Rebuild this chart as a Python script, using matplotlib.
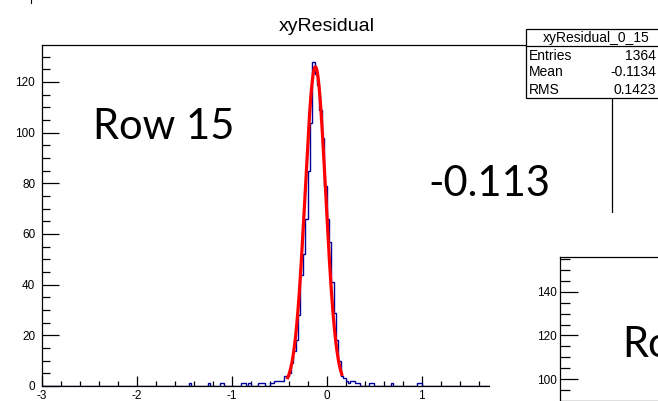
import numpy as np
import matplotlib.pyplot as plt
from matplotlib.patches import Rectangle
from matplotlib.lines import Line2D
from matplotlib.ticker import MultipleLocator

plt.rcParams['font.family'] = ['Liberation Sans', 'DejaVu Sans']
plt.rcParams['axes.unicode_minus'] = False

# xyResidual_0_15 : 240 bins on [-3, 3]
bin_w = 0.025
core_lo = -0.425
core_counts = [4, 5, 9, 14, 18, 28, 44, 52, 66, 85, 104, 128, 123, 119,
               109, 98, 79, 66, 57, 41, 29, 18, 10, 4]
tail_lo = [-1.45, -1.25, -1.125, -1.1, -0.9, -0.875, -0.825, -0.725, -0.7,
           -0.675, -0.6, -0.575, -0.55, -0.525, -0.5, -0.475, -0.45,
           0.175, 0.2, 0.225, 0.25, 0.275, 0.3, 0.325, 0.45, 0.475, 0.675,
           0.95, 0.975]
tail_counts = [1, 1, 1, 1, 1, 1, 1, 1, 1,
               1, 1, 1, 2, 2, 2, 2, 4,
               3, 2, 1, 2, 2, 1, 1, 1, 1, 1,
               1, 1]

# gaus fit
fit_const, fit_mean, fit_sigma = 126.0, -0.118, 0.108
fit_lo, fit_hi = -0.41, 0.16

stats_name = "xyResidual_0_15"
stats_rows = [("Entries", "1364"), ("Mean", "-0.1134"), ("RMS", "0.1423")]

W, H = 658, 401
def fx(px):
    return px / W
def fy(py):
    return 1 - py / H

fig = plt.figure(figsize=(W / 100, H / 100), dpi=100)

ax = fig.add_axes([fx(41.5), fy(386), fx(611.7) - fx(41.5), fy(45) - fy(386)])
edges = np.linspace(-3, 3, 241)
lo = list(core_lo + bin_w * np.arange(len(core_counts))) + tail_lo
w = core_counts + tail_counts
ax.hist(np.array(lo) + bin_w / 2, bins=edges, weights=w, histtype='step',
        color='#000099', lw=1)
xf = np.linspace(fit_lo, fit_hi, 300)
ax.plot(xf, fit_const * np.exp(-0.5 * ((xf - fit_mean) / fit_sigma) ** 2),
        color='red', lw=2.3)
ax.set_xlim(-3, 3)
ax.set_ylim(0, 134.6)
ax.xaxis.set_major_locator(MultipleLocator(1))
ax.xaxis.set_minor_locator(MultipleLocator(0.2))
ax.yaxis.set_major_locator(MultipleLocator(20))
ax.yaxis.set_minor_locator(MultipleLocator(5))
ax.tick_params(axis='both', which='both', direction='in', labelsize=8.5, width=0.9)
ax.tick_params(axis='x', which='major', length=7.5, pad=3)
ax.tick_params(axis='x', which='minor', length=3.8)
ax.tick_params(axis='y', which='major', length=12.5, pad=4.5)
ax.tick_params(axis='y', which='minor', length=6)
for s in ax.spines.values():
    s.set_linewidth(0.9)
ax.set_title("xyResidual", fontsize=14, pad=10)

# white block of the next slide panel
fig.add_artist(Rectangle((fx(490), 0), 1, fy(213), transform=fig.transFigure,
                         facecolor='white', edgecolor='none', zorder=1))

ax2 = fig.add_axes([fx(560), 0, 0.6, fy(257)])
ax2.set_zorder(2)
ax2.set_ylim(90.1, 155.8)
ax2.set_xticks([])
ax2.yaxis.set_major_locator(MultipleLocator(20))
ax2.yaxis.set_minor_locator(MultipleLocator(5))
ax2.tick_params(axis='y', which='both', direction='in', labelsize=8.5, width=0.9, pad=2)
ax2.tick_params(axis='y', which='major', length=13)
ax2.tick_params(axis='y', which='minor', length=7)
for s in ax2.spines.values():
    s.set_linewidth(0.9)

# stats box
bx0, bx1, by0, by1 = 526, 666, 29.3, 98
fig.add_artist(Rectangle((fx(bx0), fy(by1)), fx(bx1) - fx(bx0), fy(by0) - fy(by1),
                         transform=fig.transFigure, facecolor='white',
                         edgecolor='black', lw=0.9, zorder=3))
fig.add_artist(Line2D([fx(bx0), fx(bx1)], [fy(45.5), fy(45.5)],
                      transform=fig.transFigure, color='black', lw=0.9, zorder=4))
fig.text(fx((bx0 + bx1) / 2), fy(38), stats_name, ha='center', va='center',
         fontsize=10, zorder=4)
for i, (k, v) in enumerate(stats_rows):
    yy = 55.5 + 17 * i
    fig.text(fx(529), fy(yy), k, ha='left', va='center', fontsize=10, zorder=4)
    fig.text(fx(656), fy(yy), v, ha='right', va='center', fontsize=10, zorder=4)

fig.add_artist(Line2D([fx(31), fx(31)], [fy(0), fy(3)], transform=fig.transFigure,
                      color='black', lw=0.8))

big = dict(family=['Lato', 'DejaVu Sans'], fontsize=30, zorder=5)
fig.text(fx(93), fy(139), "Row 15", ha='left', va='baseline', **big)
fig.text(fx(428), fy(196), "-0.113", ha='left', va='baseline', **big)
fig.text(fx(622), fy(357), "Ro", ha='left', va='baseline', **big)

fig.savefig("out.png", dpi=100)
